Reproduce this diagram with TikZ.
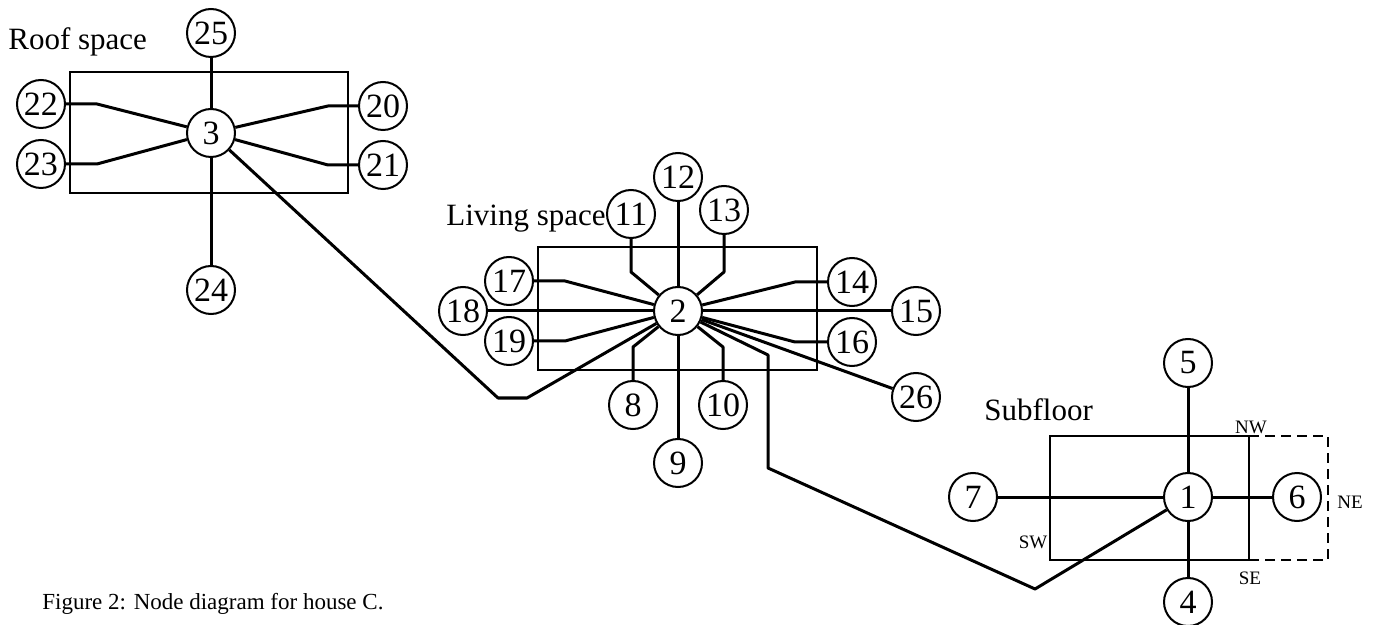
\documentclass[tikz,border=0pt]{standalone}
\usepackage{fontspec}
\setmainfont{Liberation Serif}
\usetikzlibrary{backgrounds}
\begin{document}
\begin{tikzpicture}[x=0.5pt,y=-0.5pt,
  nd/.style={circle,draw,line width=1pt,fill=white,minimum size=24pt,inner sep=0pt,font=\fontsize{17}{17}\selectfont},
  link/.style={line width=1.5pt,line join=round},
  zone/.style={line width=1pt},
  lbl/.style={font=\fontsize{15.5}{18}\selectfont,inner sep=0pt},
  corner/.style={font=\fontsize{9.5}{10}\selectfont,inner sep=0pt}]
\useasboundingbox (0,0) rectangle (1375,625);

% ---- roof space ----
\node[nd] (n3)  at (211,133) {3};
\node[nd] (n25) at (211,33)  {25};
\node[nd] (n24) at (211,290) {24};
\node[nd] (n22) at (41,104)  {22};
\node[nd] (n23) at (41,164)  {23};
\node[nd] (n20) at (383,106) {20};
\node[nd] (n21) at (383,165) {21};
\node[lbl,anchor=base west] (roof) at (8,50) {Roof space};

% ---- living space ----
\node[nd] (n2)  at (678,311) {2};
\node[nd] (n11) at (631,214) {11};
\node[nd] (n12) at (678,177) {12};
\node[nd] (n13) at (724,210) {13};
\node[nd] (n17) at (509,281) {17};
\node[nd] (n18) at (463,311) {18};
\node[nd] (n19) at (509,341) {19};
\node[nd] (n14) at (852,282) {14};
\node[nd] (n15) at (916,311) {15};
\node[nd] (n16) at (852,342) {16};
\node[nd] (n26) at (916,397) {26};
\node[nd] (n8)  at (633,405) {8};
\node[nd] (n10) at (723,405) {10};
\node[nd] (n9)  at (678,463) {9};
\node[lbl,anchor=base east] (living) at (606,226) {Living space};

% ---- subfloor ----
\node[nd] (n1) at (1188,497) {1};
\node[nd] (n5) at (1188,363) {5};
\node[nd] (n4) at (1188,602) {4};
\node[nd] (n7) at (973,497)  {7};
\node[nd] (n6) at (1297,497) {6};
\node[lbl,anchor=base west] (sub) at (984,420) {Subfloor};
\node[corner] (nw) at (1251,427) {NW};
\node[corner] (ne) at (1350,502) {NE};
\node[corner] (sw) at (1033,542) {SW};
\node[corner] (se) at (1250,578) {SE};

% caption
\node[font=\fontsize{11.5}{14}\selectfont,inner sep=0pt,anchor=base west] (cap) at (42,609) {Figure 2: Node diagram for house C.};

% bend points of the routed links
\coordinate (b22) at (97,104);
\coordinate (b23) at (97,164);
\coordinate (b20) at (328,106);
\coordinate (b21) at (328,165);
\coordinate (r1)  at (498,398);
\coordinate (r2)  at (527,398);
\coordinate (b11) at (631,272);
\coordinate (b13) at (724,272);
\coordinate (b17) at (565,281);
\coordinate (b19) at (565,341);
\coordinate (b14) at (795,282);
\coordinate (b16) at (795,342);
\coordinate (b8)  at (633,347);
\coordinate (b10) at (723,347);
\coordinate (s1)  at (768,355);
\coordinate (s2)  at (768,468);
\coordinate (s3)  at (1035,589);

\begin{scope}[on background layer]
  \draw[zone] (70,72) rectangle (348,193);
  \draw[zone] (538,247) rectangle (817,370);
  \draw[zone] (1050,436) rectangle (1249,560);
  \draw[zone,dash pattern=on 5pt off 3pt] (1249,436) -- (1328,436) -- (1328,560) -- (1249,560);
\end{scope}

% roof space links
\draw[link] (n25) -- (n3);
\draw[link] (n3) -- (n24);
\draw[link] (n22) -- (b22) -- (n3);
\draw[link] (n23) -- (b23) -- (n3);
\draw[link] (n3) -- (b20) -- (n20);
\draw[link] (n3) -- (b21) -- (n21);
\draw[link] (n3) -- (r1) -- (r2) -- (n2);

% living space links
\draw[link] (n11) -- (b11) -- (n2);
\draw[link] (n12) -- (n2);
\draw[link] (n13) -- (b13) -- (n2);
\draw[link] (n17) -- (b17) -- (n2);
\draw[link] (n18) -- (n2);
\draw[link] (n19) -- (b19) -- (n2);
\draw[link] (n2) -- (b14) -- (n14);
\draw[link] (n2) -- (n15);
\draw[link] (n2) -- (b16) -- (n16);
\draw[link] (n2) -- (n26);
\draw[link] (n2) -- (b8) -- (n8);
\draw[link] (n2) -- (n9);
\draw[link] (n2) -- (b10) -- (n10);
\draw[link] (n2) -- (s1) -- (s2) -- (s3) -- (n1);

% subfloor links
\draw[link] (n5) -- (n1);
\draw[link] (n1) -- (n4);
\draw[link] (n7) -- (n1);
\draw[link] (n1) -- (n6);
\end{tikzpicture}
\end{document}
